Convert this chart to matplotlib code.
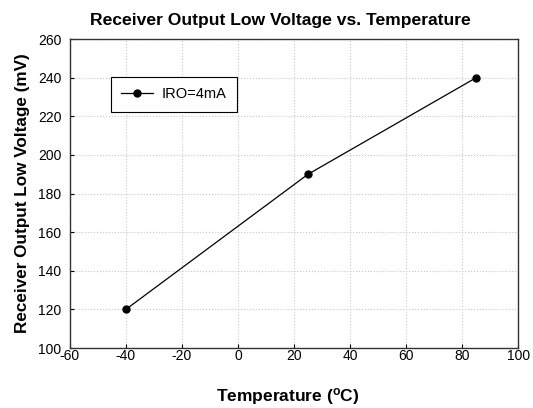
import matplotlib
matplotlib.use('Agg')
import matplotlib.pyplot as plt

# Datos
temperatura = [-40, 25, 85]
voltaje = [120, 190, 240]
etiqueta = 'IRO=4mA'

plt.rcParams['font.family'] = ['Liberation Sans', 'DejaVu Sans']
plt.rcParams['axes.unicode_minus'] = False

fig = plt.figure(figsize=(5.33, 4.08), dpi=100)
ax = fig.add_axes([0.131, 0.147, 0.841, 0.757])

ax.plot(temperatura, voltaje, color='black', linewidth=0.9,
        marker='o', markersize=5, label=etiqueta)

ax.set_xlim(-60, 100)
ax.set_ylim(100, 260)
ax.set_xticks(range(-60, 101, 20))
ax.set_yticks(range(100, 261, 20))
ax.grid(True, linestyle=':', color='#c8c8c8', linewidth=0.8)
ax.set_axisbelow(True)
ax.tick_params(direction='in', length=3, labelsize=10)
ax.tick_params(axis='x', pad=1)
ax.tick_params(axis='y', pad=6)
for s in ax.spines.values():
    s.set_linewidth(1.0)
    s.set_color('#333333')

ax.set_title('Receiver Output Low Voltage vs. Temperature',
             fontsize=12.6, fontweight='bold', pad=10, x=0.469)
ax.set_xlabel('Temperature ($\\mathregular{^o}$C)', fontsize=12.5,
              fontweight='bold', labelpad=16)
ax.xaxis.label.set_x(0.487)
ax.set_ylabel('Receiver Output Low Voltage (mV)', fontsize=12.3,
              fontweight='bold', labelpad=6)

leg = ax.legend(loc='upper left', bbox_to_anchor=(0.092, 0.877),
                fontsize=10.5, fancybox=False, framealpha=1,
                edgecolor='black', borderpad=0.7, handlelength=2.2,
                handletextpad=0.6, borderaxespad=0)
leg.get_frame().set_linewidth(0.8)

fig.savefig('out.png', dpi=100)
